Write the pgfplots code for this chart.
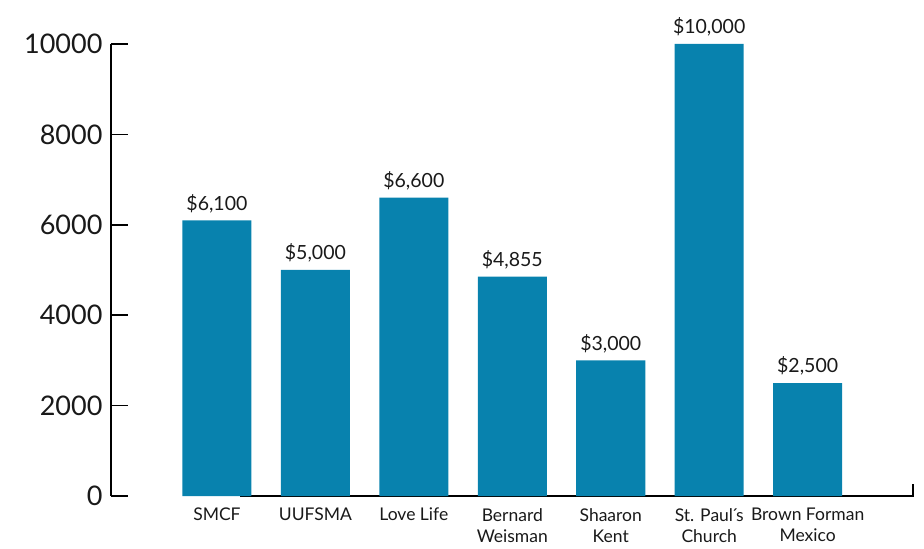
\documentclass[border=0pt]{standalone}
\usepackage{fontspec}
\setmainfont{Lato}
\usepackage{pgfplots}
\pgfplotsset{compat=1.18}
\definecolor{barblue}{RGB}{8,130,174}
\definecolor{txt}{RGB}{25,25,25}
\begin{document}
\begin{tikzpicture}
\begin{axis}[
  scale only axis, width=802pt, height=452pt,
  xmin=-1.076, xmax=7.07, ymin=0, ymax=10000,
  axis y line*=left,
  axis x line*=bottom,
  x axis line style={draw=none},
  y axis line style={line width=1.5pt, black},
  ytick={0,2000,4000,6000,8000,10000},
  ytick style={line width=1.5pt, black},
  tick align=inside,
  major tick length=17pt,
  scaled y ticks=false,
  /pgf/number format/assume math mode=true,
  /pgf/number format/1000 sep={},
  yticklabel style={font=\fontsize{27}{27}\selectfont, text=txt, xshift=-5pt},
  xtick={0,1,2,3,4,5,6},
  xtick style={draw=none},
  xticklabels={SMCF,UUFSMA,Love Life,{Bernard\\Weisman},{Shaaron\\Kent},{St. Paul\kern-2pt´\kern-2pt s\\Church},{Brown Forman\\Mexico}},
  xticklabel style={font=\fontsize{17.5}{21}\selectfont, align=center, text=txt, yshift=6pt, inner sep=1pt},
  ybar, bar width=69pt,
  point meta=explicit symbolic,
  nodes near coords,
  nodes near coords style={font=\fontsize{19.5}{22}\selectfont, text=txt, yshift=4pt},
  clip=false,
]
\draw[line width=1.5pt, black] (axis cs:0.234,0) -- (axis cs:7.07,0) -- ([yshift=12pt]axis cs:7.07,0);
\addplot[fill=barblue, draw=none] coordinates {
  (0,6100) [\$6,100]
  (1,5000) [\$5,000]
  (2,6600) [\$6,600]
  (3,4855) [\$4,855]
  (4,3000) [\$3,000]
  (5,10000) [\$10,000]
  (6,2500) [\$2,500]
};
\end{axis}
\pgfresetboundingbox
\useasboundingbox (-111pt,-53pt) rectangle (813pt,496pt);
\end{tikzpicture}
\end{document}
